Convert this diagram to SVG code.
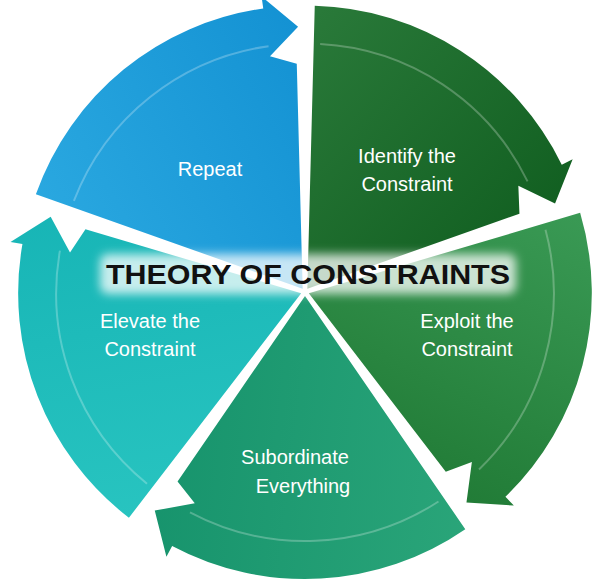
<svg xmlns="http://www.w3.org/2000/svg" width="613" height="581" viewBox="0 0 613 581">
<defs>
<path id="seg" d="M0,0 L7.41,-282.9 A283 283 0 0 1 254.4,-124.1 L265.3,-129.4 L247.7,-85.3 L211.0,-102.9 L212.1,-75.1 Z"/>
<path id="inner" d="M12.8,-244.7 A245 245 0 0 1 220.2,-107.4" fill="none" stroke="#ffffff" stroke-opacity="0.25" stroke-width="2"/>
<linearGradient id="gId" x1="0" y1="0" x2="1" y2="1"><stop offset="0" stop-color="#2a7a3a"/><stop offset="1" stop-color="#0d5a1c"/></linearGradient>
<linearGradient id="gEx" x1="0" y1="0" x2="1" y2="1"><stop offset="0" stop-color="#3a9a55"/><stop offset="1" stop-color="#1c7530"/></linearGradient>
<linearGradient id="gSu" x1="0" y1="0" x2="1" y2="1"><stop offset="0" stop-color="#2aa579"/><stop offset="1" stop-color="#13906a"/></linearGradient>
<linearGradient id="gEl" x1="0" y1="0" x2="1" y2="1"><stop offset="0" stop-color="#28c4c0"/><stop offset="1" stop-color="#14b2b4"/></linearGradient>
<linearGradient id="gRe" x1="0" y1="0" x2="1" y2="1"><stop offset="0" stop-color="#2aa8e0"/><stop offset="1" stop-color="#0f8dd0"/></linearGradient>
<filter id="glow" x="-20%" y="-50%" width="140%" height="200%"><feGaussianBlur stdDeviation="5"/></filter>
</defs>
<style>
.lbl{font-family:"Liberation Sans",Arial,sans-serif;font-size:20px;fill:#ffffff;text-anchor:middle}
.title{font-family:"Liberation Sans",Arial,sans-serif;font-size:28px;font-weight:bold;fill:#111111;text-anchor:middle}
</style>
<g id="identify" transform="translate(307.35,288.76)"><use href="#seg" fill="url(#gId)"/><use href="#inner"/></g>
<g id="exploit" transform="translate(308.8,293.24) rotate(72)"><use href="#seg" fill="url(#gEx)"/><use href="#inner"/></g>
<g id="subordinate" transform="translate(305,296) rotate(144)"><use href="#seg" fill="url(#gSu)"/><use href="#inner"/></g>
<g id="elevate" transform="translate(301.2,293.24) rotate(216)"><use href="#seg" fill="url(#gEl)"/><use href="#inner"/></g>
<g id="repeat" transform="translate(302.65,288.76) rotate(288)"><use href="#seg" fill="url(#gRe)"/><use href="#inner"/></g>
<g id="connectors"/>
<g id="labels">
<text class="lbl" x="210" y="176">Repeat</text>
<text class="lbl" x="407" y="163">Identify the</text>
<text class="lbl" x="407" y="191">Constraint</text>
<text class="lbl" x="467" y="328">Exploit the</text>
<text class="lbl" x="467" y="356">Constraint</text>
<text class="lbl" x="295" y="464">Subordinate</text>
<text class="lbl" x="303" y="493">Everything</text>
<text class="lbl" x="150" y="328">Elevate the</text>
<text class="lbl" x="150" y="356">Constraint</text>
</g>
<g id="title">
<rect x="100" y="254" width="416" height="40" rx="8" fill="#ffffff" fill-opacity="0.75" filter="url(#glow)"/>
<text class="title" x="308" y="284" textLength="404" lengthAdjust="spacingAndGlyphs">THEORY OF CONSTRAINTS</text>
</g>
</svg>
